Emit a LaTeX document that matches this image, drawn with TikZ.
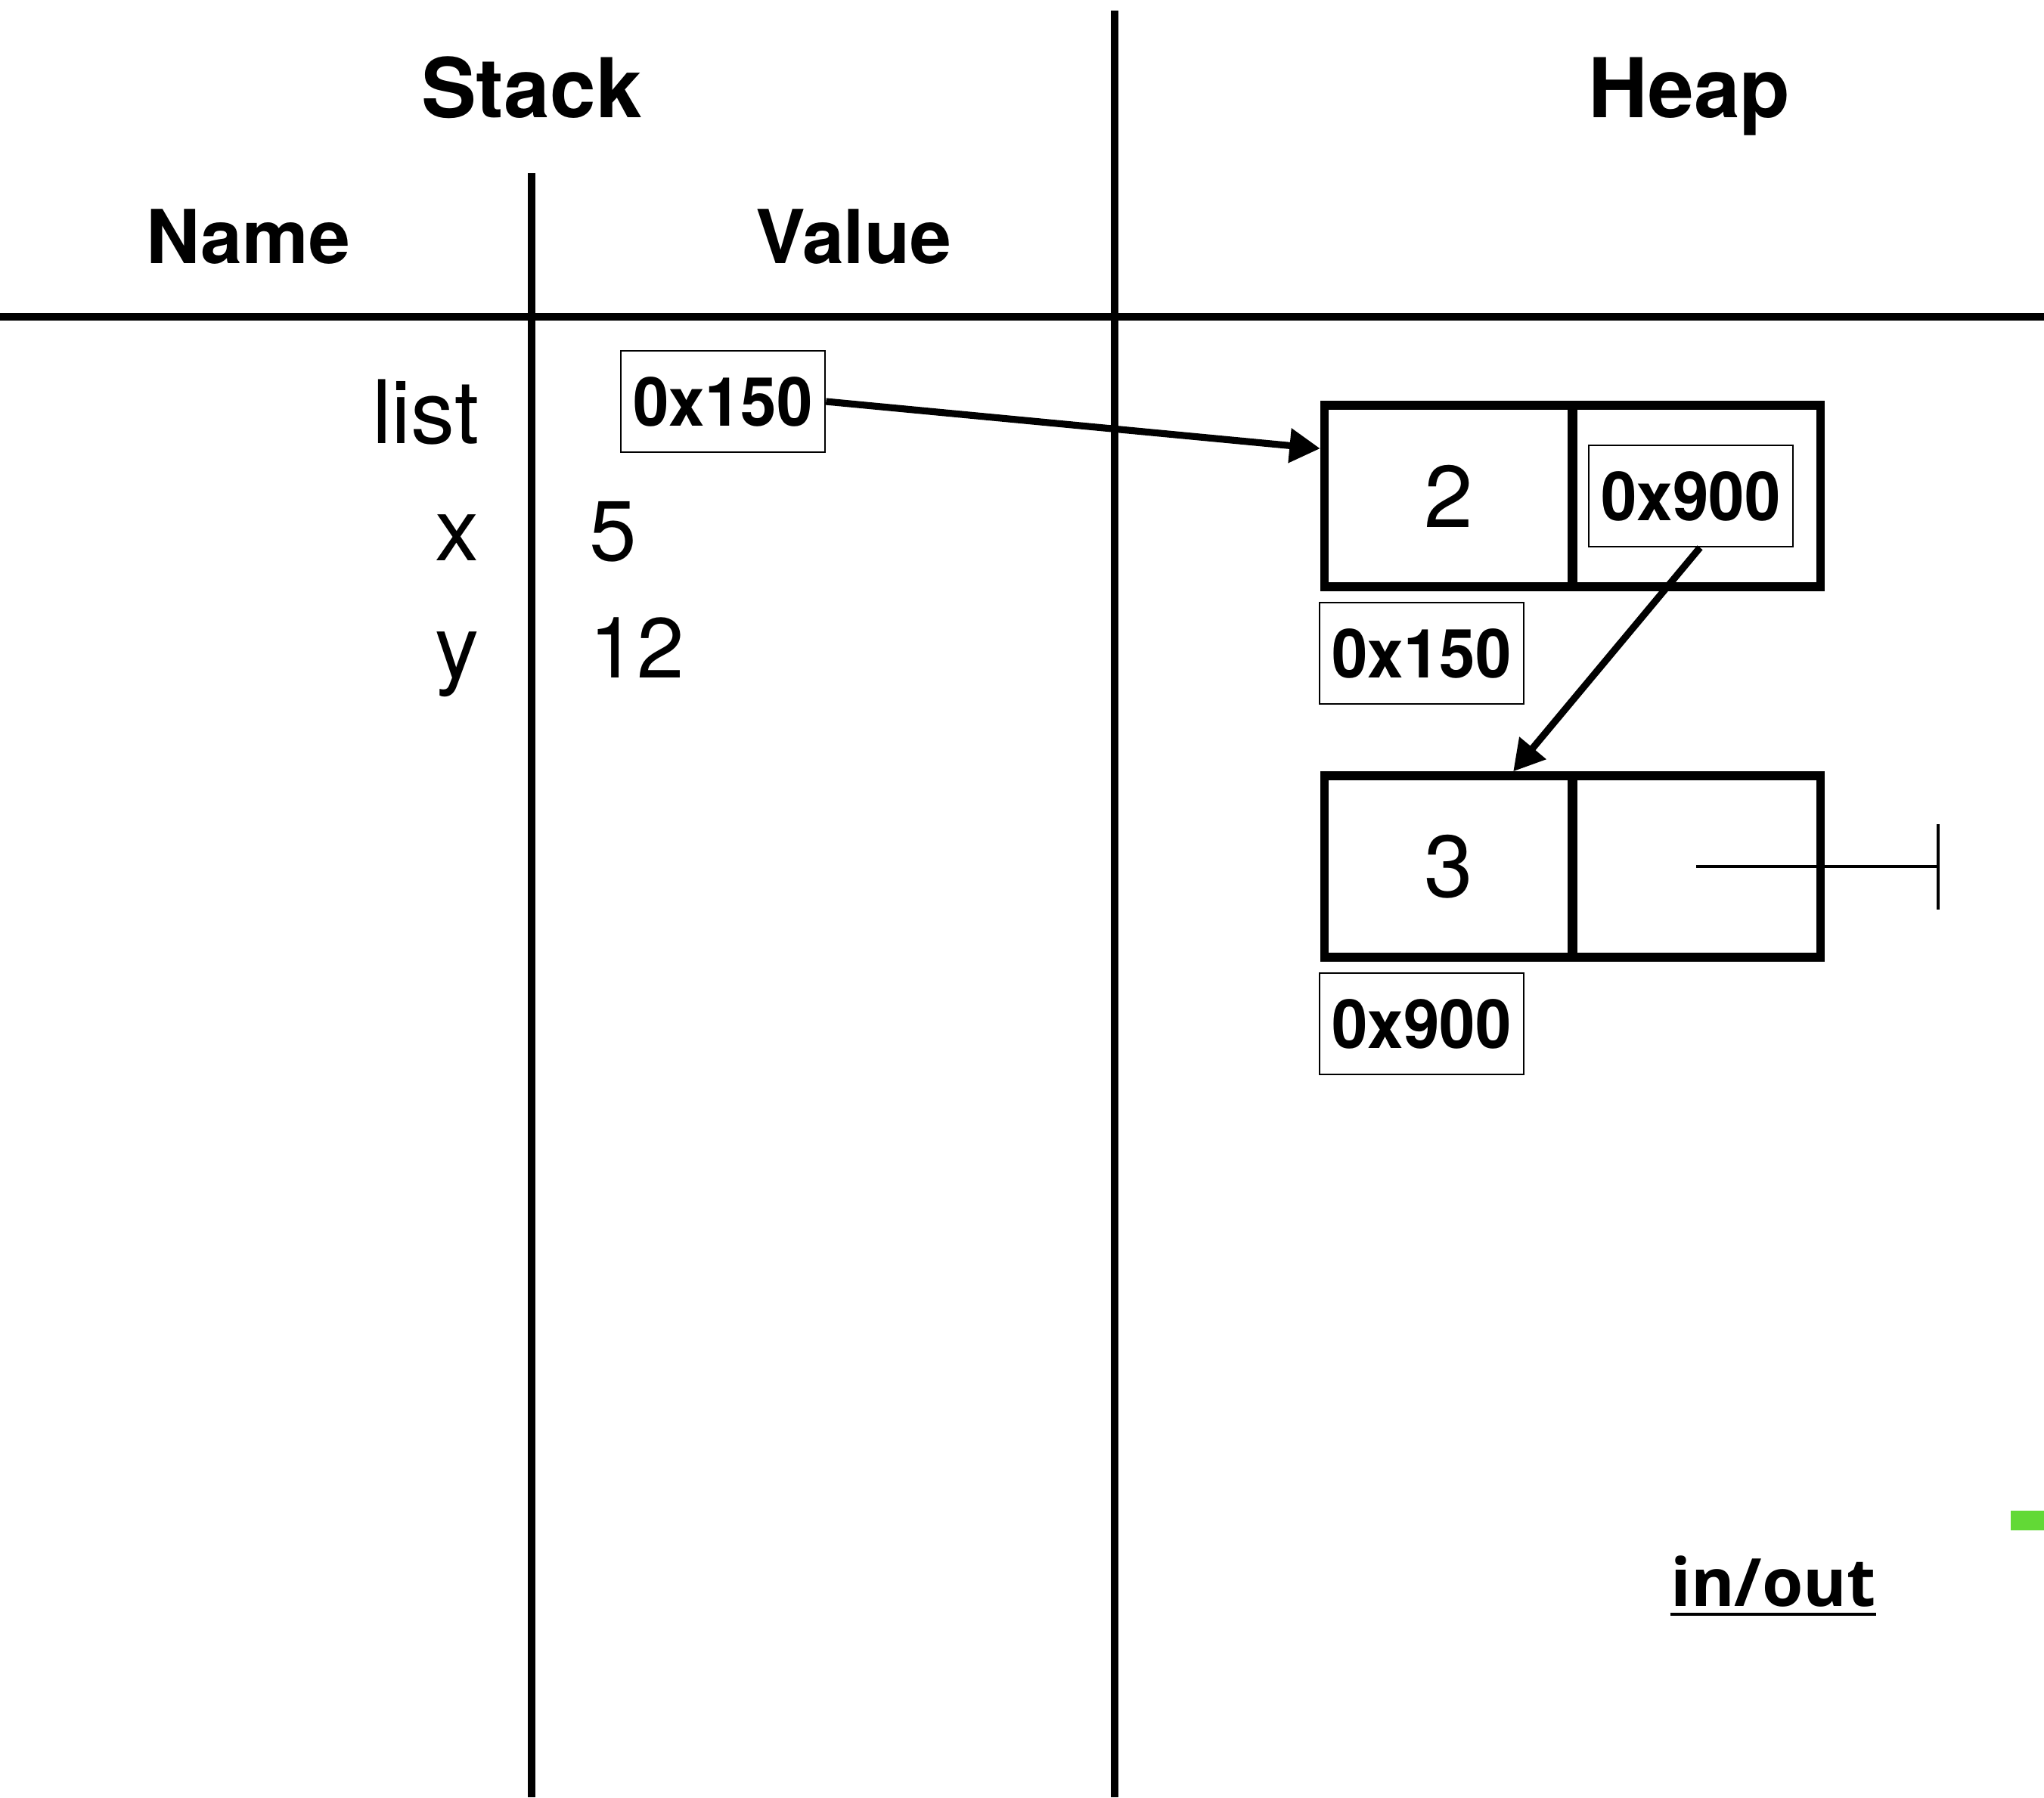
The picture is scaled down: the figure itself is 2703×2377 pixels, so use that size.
\documentclass[tikz,border=0pt]{standalone}
\usepackage{fontspec}
\setmainfont{TeX Gyre Heros}
\newfontfamily\hexfont[FakeStretch=0.95]{TeX Gyre Heros}
\newfontfamily\iofont{Open Sans}
\usetikzlibrary{arrows.meta,calc}
\definecolor{markgreen}{RGB}{98,217,54}
\begin{document}
\begin{tikzpicture}[x=0.01cm,y=-0.01cm,
  sep/.style={line width=2.6pt},
  head/.style={inner sep=0pt,anchor=base,font=\fontsize{31}{36}\selectfont\bfseries},
  colhead/.style={inner sep=0pt,anchor=base,font=\fontsize{28}{33}\selectfont\bfseries},
  varname/.style={inner sep=0pt,anchor=base east,font=\fontsize{33}{38}\selectfont},
  varval/.style={inner sep=0pt,anchor=base west,font=\fontsize{32}{38}\selectfont},
  hexbox/.style={draw,line width=0.7pt,minimum width=2.70cm,minimum height=1.34cm,inner sep=0pt,
    font=\hexfont\fontsize{25.5}{30}\selectfont\bfseries},
  cell/.style={draw,line width=3.2pt,minimum width=3.29cm,minimum height=2.40cm,inner sep=0pt,
    font=\fontsize{33}{40}\selectfont},
  ptr/.style={line width=2.6pt,-{Triangle[length=11.5pt,width=12.5pt]}},
  nullline/.style={line width=1.4pt}
]
\useasboundingbox (0,0) rectangle (2703,2377);
% separators
\draw[sep] (0,419) -- (2703,419);
\draw[sep] (1474,14) -- (1474,2377);
\draw[sep] (703,229) -- (703,2377);
% headings
\node[head] (stack) at (703,155) {Stack};
\node[head] (heap) at (2234,155) {Heap};
\node[colhead] (name) at (328,348) {Name};
\node[colhead] (value) at (1129,348) {Value};
% stack entries
\node[varname] (nlist) at (634,586) {list};
\node[varname] (nx) at (634,741) {x};
\node[varname] (ny) at (634,896) {y};
\node[hexbox] (s150) at (956,531) {0x150};
\node[varval] (vx) at (779,741) {5};
\node[varval] (vy) at (779,896) {12};
% heap node 1
\node[cell] (n1a) at (1916,656) {2};
\node[cell] (n1b) at (2243,656) {};
\node[hexbox] (h900) at (2236,656) {0x900};
\node[hexbox] (l150) at (1880,864) {0x150};
% heap node 2
\node[cell] (n2a) at (1916,1146) {3};
\node[cell] (n2b) at (2243,1146) {};
\node[hexbox] (l900) at (1880,1354) {0x900};
% null terminator
\coordinate (nullend) at (2563,1146);
\draw[nullline] (n2b.center) -- (nullend);
\draw[nullline] ($(nullend)+(0,-56)$) -- ($(nullend)+(0,57)$);
% pointers
\draw[ptr] (s150.east) -- ($(n1a.north west)!0.25!(n1a.south west)$);
\draw[ptr] ([xshift=0.12cm]h900.south) -- ($(n2a.north west)!0.75!(n2a.north east)$);
% in/out
\node[inner sep=0pt,anchor=base,font=\iofont\fontsize{25}{30}\selectfont\bfseries] (io) at (2345,2124) {in/out};
\draw[line width=1.2pt] ($(io.base west)+(0,11)$) -- ($(io.base east)+(0,11)$);
% green mark
\fill[markgreen] (2659,1998) rectangle (2703,2024);
\end{tikzpicture}
\end{document}
